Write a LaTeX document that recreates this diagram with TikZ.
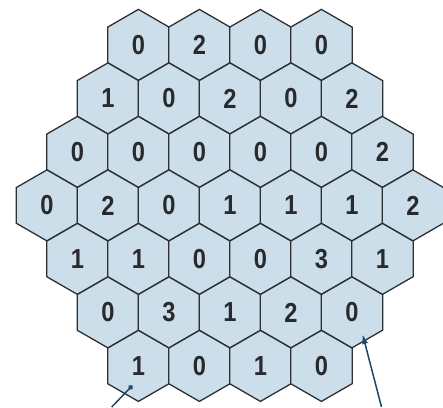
\documentclass[tikz,border=0pt]{standalone}
\usepackage{fontspec}
\setmainfont{Liberation Sans}
\newfontfamily\digitfont[FakeStretch=0.86]{Liberation Sans}
\usetikzlibrary{shapes.geometric,arrows.meta,calc}
\definecolor{hexfill}{RGB}{204,222,233}
\definecolor{hexline}{RGB}{45,48,50}
\definecolor{digitcol}{RGB}{40,42,45}
\definecolor{pointercol}{RGB}{28,72,102}
\begin{document}
\begin{tikzpicture}[x=1pt,y=-1pt,
  hexcell/.style={regular polygon, regular polygon sides=6, shape border rotate=30,
    minimum size=71pt, inner sep=0pt, draw=hexline, fill=hexfill, line width=1.3pt,
    text=digitcol, font=\digitfont\fontsize{27.5}{27.5}\selectfont\bfseries},
  pointer/.style={draw=pointercol, line width=1.5pt}]
\useasboundingbox (0,0) rectangle (443,407);
\foreach \r/\vals in {0/{0,2,0,0},1/{1,0,2,0,2},2/{0,0,0,0,0,2},3/{0,2,0,1,1,1,2},4/{1,1,0,0,3,1},5/{0,3,1,2,0},6/{1,0,1,0}} {
  \pgfmathtruncatemacro\n{7-abs(\r-3)}
  \foreach \v [count=\c from 0] in \vals {
    \node[hexcell] (h-\r-\c) at ({229.9+(\c-(\n-1)/2)*61},{205.4+(\r-3)*53.5}) {\v};
  }
}
\coordinate (ldot) at ($(h-6-0)+(-6,19.6)$);
\coordinate (lend) at (111.7,407);
\coordinate (rtip) at ($(h-5-4)+(10.6,21.6)$);
\coordinate (rend) at (381.5,407);
\draw[pointer,-{Circle[length=5pt]}] (lend) -- (ldot);
\draw[pointer,-{Latex[length=10pt,width=6pt]}] (rend) -- (rtip);
\end{tikzpicture}
\end{document}
